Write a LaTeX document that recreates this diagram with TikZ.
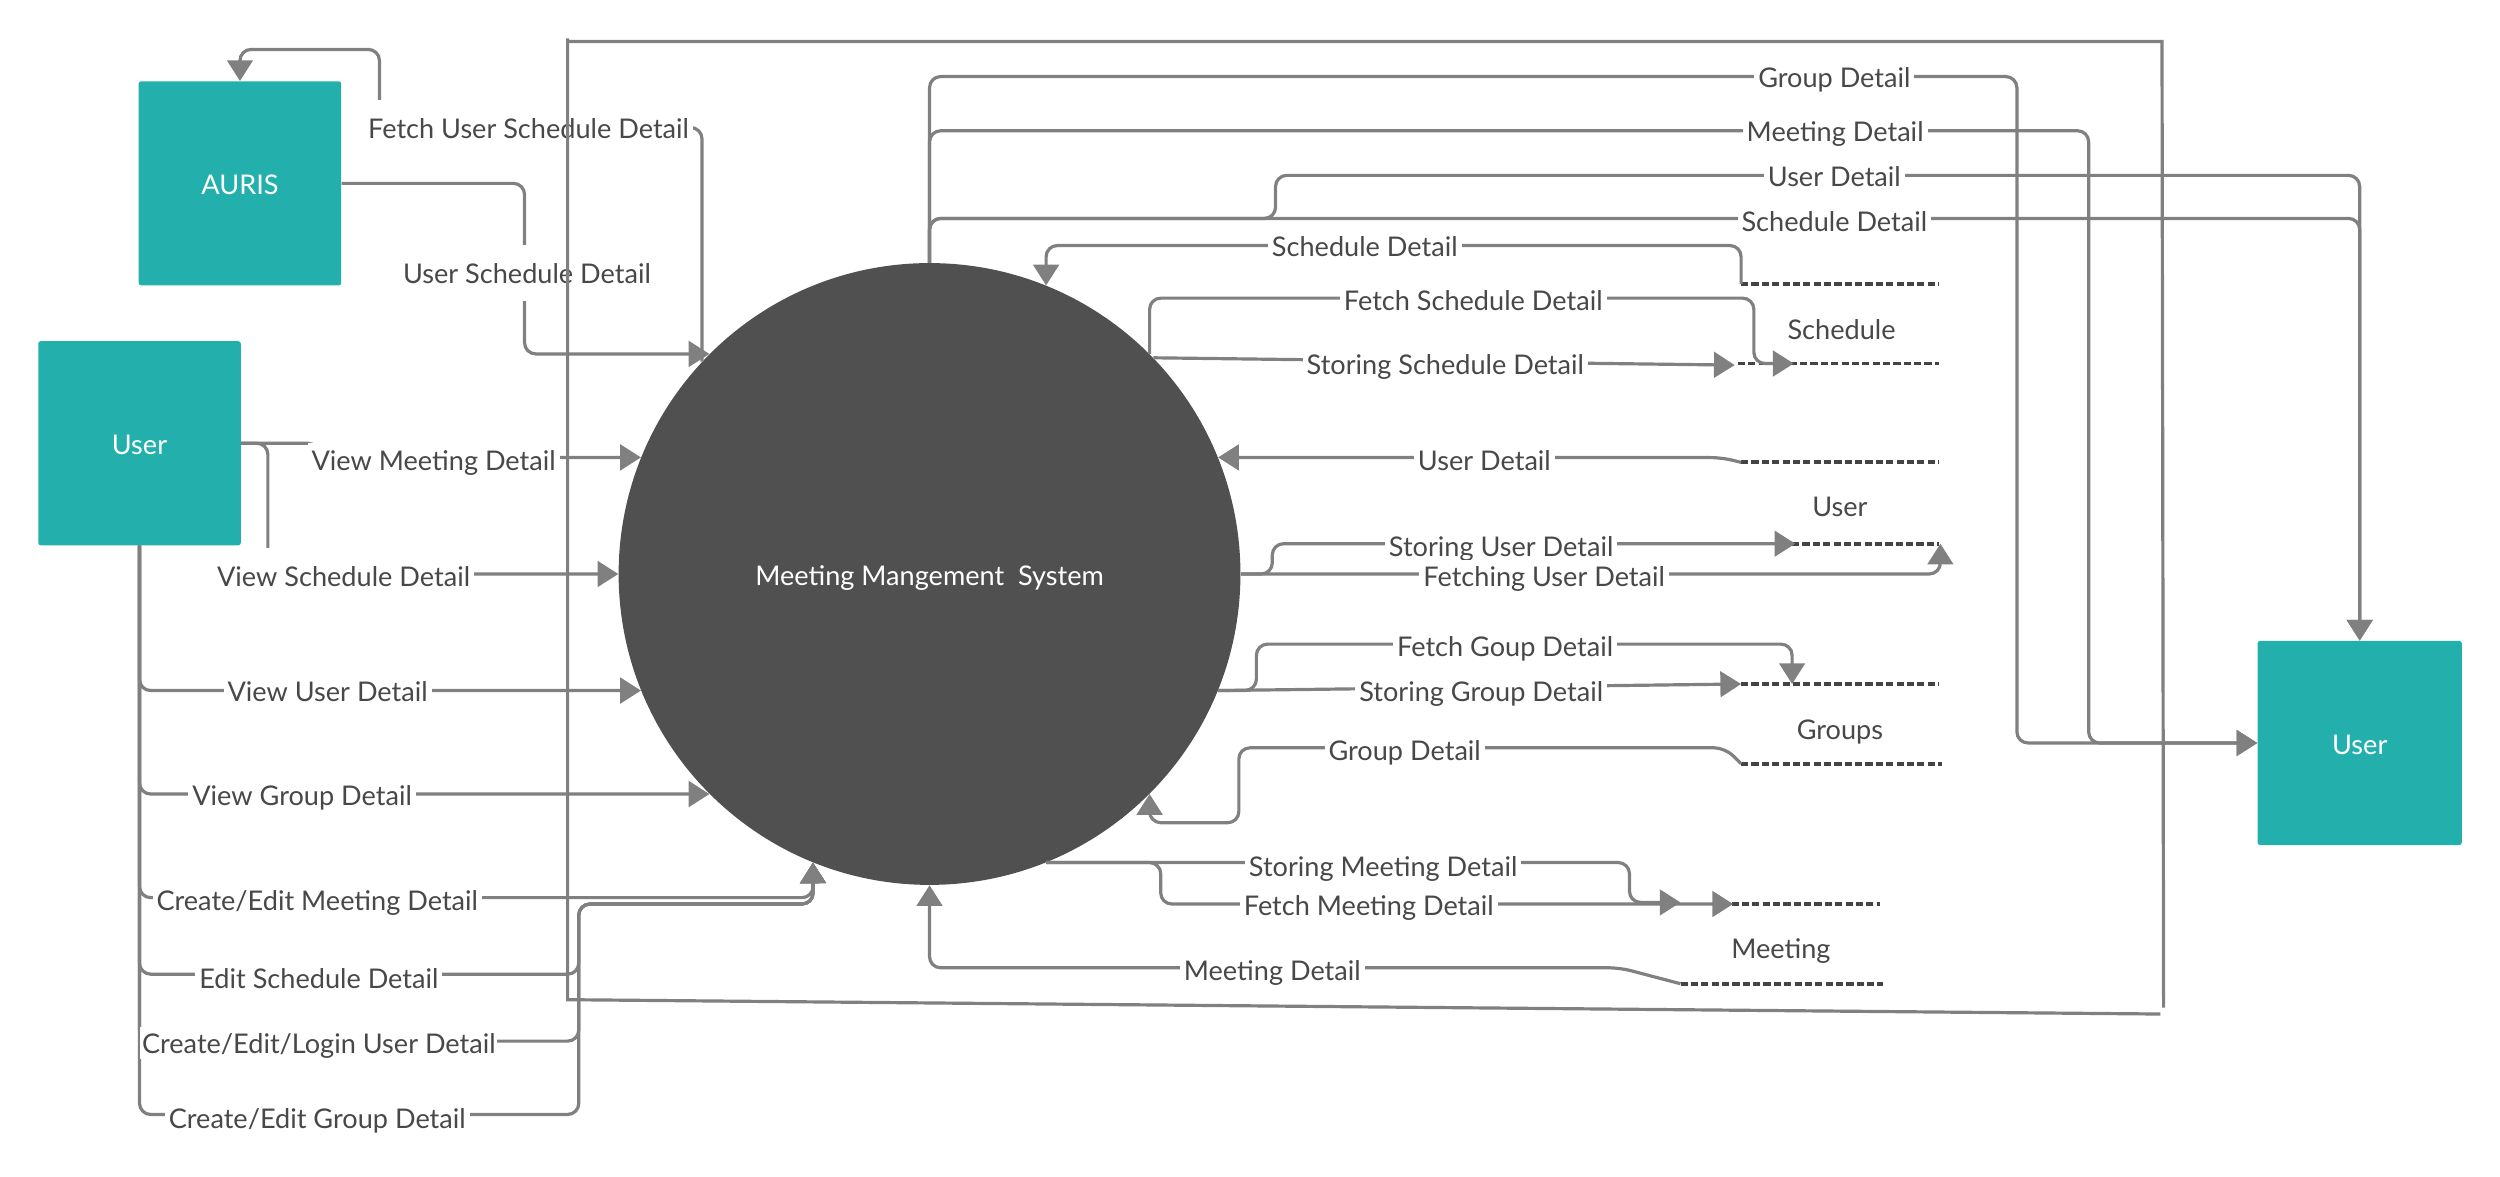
\documentclass[tikz,border=0pt]{standalone}
\usepackage{fontspec}
\setmainfont{Lato}
\usetikzlibrary{arrows.meta}
\definecolor{teal1}{RGB}{35,176,173}
\definecolor{circ}{RGB}{80,80,80}
\definecolor{lc}{RGB}{128,128,128}
\definecolor{txt}{RGB}{72,72,72}
\definecolor{dsh}{RGB}{68,68,68}
\newcommand\lblfont{\fontsize{17}{20}\selectfont}
\begin{document}
\begin{tikzpicture}[x=1pt,y=-1pt,
  txtbox/.style={text height=15pt, text depth=1pt},
  ent/.style={txtbox, fill=teal1, minimum width=127pt, minimum height=128pt, inner sep=0, rounded corners=1.5pt, text=white, font=\lblfont},
  proc/.style={txtbox, circle, fill=circ, minimum size=390pt, inner sep=0, text=white, font=\lblfont},
  flow/.style={draw=lc, line width=2pt, rounded corners=7pt, -{Triangle[length=13pt,width=16pt]}},
  lbl/.style={txtbox, fill=white, text=txt, font=\lblfont, inner xsep=2.5pt, inner ysep=2pt},
  tall/.style={lbl, minimum height=35pt},
  storelbl/.style={txtbox, text=txt, font=\lblfont, inner sep=0},
  storeline/.style={draw=dsh, line width=2.4pt, dash pattern=on 4.5pt off 2pt},
  frame/.style={draw=lc, line width=2pt}
]
\useasboundingbox[fill=white] (0,0) rectangle (1568,738.2);

% entities and process
\node[ent] (aur) at (150.5,115) {AURIS};
\node[ent] (usrL) at (87.5,278) {User};
\node[ent, minimum width=128pt] (usrR) at (1480,466) {User};
\node[proc] (mms) at (583,360) {Meeting Mangement\ \ System};

% data store anchors
\coordinate (schT) at (1092,178);
\coordinate (usrT) at (1092,290);
\coordinate (grpB) at (1092,479);
\coordinate (metB) at (1054,617);

% data stores
\draw[storeline] (schT) -- (1216,178);
\draw[storeline] (1090,228) -- (1216,228);
\draw[storeline] (usrT) -- (1216,290);
\draw[storeline] (1124,341) -- (1216,341);
\draw[storeline] (1092,429) -- (1216,429);
\draw[storeline] (grpB) -- (1218,479);
\draw[storeline] (1086,567) -- (1179,567);
\draw[storeline] (metB) -- (1181,617);
\node[storelbl] (sSch) at (1155,206) {Schedule};
\node[storelbl] (sUsr) at (1154,317) {User};
\node[storelbl] (sGrp) at (1154,457) {Groups};
\node[storelbl] (sMet) at (1117,594) {Meeting};

% AURIS flows
\draw[flow] (aur.east) -| (329,222) -- (mms.135);
\draw[flow] (mms.137) |- (238,80) -- (238,31) -| (aur.north);

% left user flows
\draw[flow] (usrL.east) -- (200,278) |- (mms.158);
\draw[flow] (usrL.east) -| (168,360) -- (mms.180);
\draw[flow] (usrL.south) |- (mms.202);
\draw[flow] (usrL.south) |- (mms.225);
\draw[flow] (usrL.south) |- (510,563) -- (mms.248);
\draw[flow] (usrL.south) |- (363,611) |- (510,567) -- (mms.248);
\draw[flow] (usrL.south) |- (363,653) |- (510,567) -- (mms.248);
\draw[flow] (usrL.south) |- (363,699) |- (510,567) -- (mms.248);

% top flows to right user
\draw[flow] (mms.north) |- (1265,48) |- (usrR.west);
\draw[flow] (mms.north) |- (1310,82) |- (usrR.west);
\draw[flow] (mms.north) |- (800,137) |- (usrR.north |- 0,110) -- (usrR.north);
\draw[flow] (mms.north) |- (usrR.north |- 0,137) -- (usrR.north);

% right side flows with data stores
\draw[flow] (schT) |- (mms.68 |- 0,154) -- (mms.68);
\draw[flow] (mms.45) |- (1100,187) |- (1125,228);
\draw[flow] (mms.44) -- (1088,229);
\draw[flow] (usrT) -- (1080,287) -- (mms.22);
\draw[flow] (mms.east) -- (798,360) |- (1126,341);
\draw[flow] (mms.east) -| (1217,341);
\draw[flow] (mms.338) -- (788,433) |- (1124,404) -- (1124,429);
\draw[flow] (mms.338) -- (1092,429);
\draw[flow] (grpB) -- (1082,469) -| (777,516) -| (mms.315);
\draw[flow] (mms.292) -- (1022,541) |- (1054,566);
\draw[flow] (mms.292) -- (728,541) |- (1087,567);
\draw[flow] (metB) -- (1016,607) -| (mms.south);

% labels
\node[tall] (l1) at (331.5,80) {Fetch User Schedule Detail};
\node[tall] (l2) at (330.5,171) {User Schedule Detail};
\node[lbl] (l3) at (272,288) {View Meeting Detail};
\node[tall] (l4) at (215.5,361) {View Schedule Detail};
\node[lbl] (l5) at (205.5,433) {View User Detail};
\node[lbl] (l6) at (189.5,498) {View Group Detail};
\node[lbl] (l7) at (199,564) {Create/Edit Meeting Detail};
\node[lbl] (l8) at (200,613) {Edit Schedule Detail};
\node[lbl, inner xsep=1pt] (l9) at (200,654) {Create/Edit/Login User Detail};
\node[lbl] (l10) at (199,701) {Create/Edit Group Detail};
\node[lbl] (l11) at (1150.5,48) {Group Detail};
\node[lbl] (l12) at (1151,82) {Meeting Detail};
\node[lbl] (l13) at (1150.5,110) {User Detail};
\node[lbl] (l14) at (1150.5,138) {Schedule Detail};
\node[lbl] (l15) at (856,154) {Schedule Detail};
\node[lbl] (l16) at (924,188) {Fetch Schedule Detail};
\node[lbl] (l17) at (906.5,228) {Storing Schedule Detail};
\node[lbl] (l18) at (931,288) {User Detail};
\node[lbl] (l19) at (941.5,342) {Storing User Detail};
\node[lbl] (l20) at (968.5,361) {Fetching User Detail};
\node[lbl] (l21) at (944,405) {Fetch Goup Detail};
\node[lbl] (l22) at (929,433) {Storing Group Detail};
\node[lbl] (l23) at (881,470) {Group Detail};
\node[lbl] (l24) at (867.5,543) {Storing Meeting Detail};
\node[lbl] (l25) at (858.5,567) {Fetch Meeting Detail};
\node[lbl] (l26) at (798,608) {Meeting Detail};

% frame
\draw[frame] (356,24) -- (356,627) -- (1355,636);
\draw[frame] (356,26) -- (1356,26) -- (1357,632);
\end{tikzpicture}
\end{document}
